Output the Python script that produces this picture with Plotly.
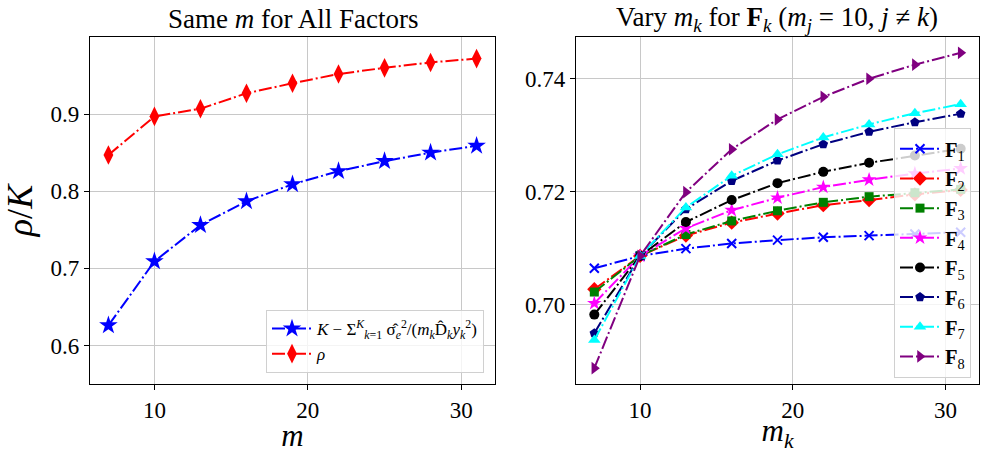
import plotly.graph_objects as go

# ---- data -------------------------------------------------------------
m_values = [7, 10, 13, 16, 19, 22, 25, 28, 31]

bound_vals = [0.626, 0.709, 0.756, 0.787, 0.809, 0.826, 0.839, 0.850, 0.859]
rho_vals = [0.847, 0.897, 0.907, 0.927, 0.940, 0.952, 0.960, 0.967, 0.972]

F1 = [0.7064, 0.7086, 0.7099, 0.7108, 0.7114, 0.7119, 0.7122, 0.7125, 0.7128]
F2 = [0.7027, 0.7086, 0.7122, 0.7145, 0.7161, 0.7176, 0.7185, 0.7195, 0.7203]
F3 = [0.7022, 0.7086, 0.7124, 0.7148, 0.7166, 0.7181, 0.7191, 0.7198, 0.7204]
F4 = [0.7002, 0.7086, 0.7135, 0.7167, 0.7189, 0.7208, 0.7221, 0.7232, 0.7241]
F5 = [0.6982, 0.7086, 0.7146, 0.7185, 0.7215, 0.7235, 0.7251, 0.7264, 0.7276]
F6 = [0.6949, 0.7086, 0.7169, 0.7219, 0.7255, 0.7284, 0.7306, 0.7323, 0.7338]
F7 = [0.6937, 0.7086, 0.7172, 0.7228, 0.7266, 0.7296, 0.7319, 0.7339, 0.7355]
F8 = [0.6887, 0.7086, 0.7199, 0.7275, 0.7328, 0.7368, 0.7400, 0.7425, 0.7446]

factor_series = [F1, F2, F3, F4, F5, F6, F7, F8]
factor_names = [f"<b>F</b><sub>{i}</sub>" for i in range(1, 9)]
factor_colors = ["blue", "red", "green", "magenta", "black", "navy", "cyan", "purple"]
factor_symbols = ["x-thin-open", "diamond", "square", "star", "circle",
                  "pentagon", "triangle-up", "triangle-right"]
factor_sizes = [9, 11, 9, 11, 10, 10, 11, 11]

left_xticks = [10, 20, 30]
left_yticks = [0.6, 0.7, 0.8, 0.9]
right_yticks = [0.70, 0.72, 0.74]

# ---- styling ----------------------------------------------------------
FONT = "Liberation Serif"
DASH = "13px,3px,2px,3px"
W, H = 982, 453


def px_x(p):
    return p / W


def px_y(p):
    return 1 - p / H


fig = go.Figure()

# left panel
fig.add_trace(go.Scatter(
    x=m_values, y=bound_vals, mode="lines+markers",
    name=("<i>K</i> − Σ<sup><i>K</i></sup><sub><i>k</i>=1</sub> "
          "σ̂<sub><i>e</i></sub><sup>2</sup>/"
          "(<i>m<sub>k</sub></i>D̂<sub><i>k</i></sub><i>y</i><sub><i>k</i></sub><sup>2</sup>)"),
    line=dict(color="blue", width=2, dash=DASH),
    marker=dict(symbol="star", size=14, color="blue"),
    xaxis="x", yaxis="y", legend="legend"))
fig.add_trace(go.Scatter(
    x=m_values, y=rho_vals, mode="lines+markers", name="<i>ρ</i>",
    line=dict(color="red", width=2, dash=DASH),
    marker=dict(symbol="diamond-tall", size=14, color="red"),
    xaxis="x", yaxis="y", legend="legend"))

# right panel
for vals, name, col, sym, sz in zip(factor_series, factor_names, factor_colors,
                                    factor_symbols, factor_sizes):
    marker = dict(symbol=sym, size=sz, color=col)
    if sym == "x-thin-open":
        marker["line"] = dict(color=col, width=2)
    fig.add_trace(go.Scatter(
        x=m_values, y=vals, mode="lines+markers", name=name,
        line=dict(color=col, width=2, dash=DASH), marker=marker,
        xaxis="x2", yaxis="y2", legend="legend2"))

axis_common = dict(
    showline=True, linecolor="black", linewidth=1.3, mirror=True,
    ticks="outside", ticklen=5, tickcolor="black", tickwidth=1.2,
    showgrid=True, gridcolor="#c8c8c8", gridwidth=1, zeroline=False,
    tickfont=dict(family=FONT, size=23, color="black"),
)

ydom = [px_y(384), px_y(37)]

fig.update_layout(
    width=W, height=H,
    margin=dict(l=0, r=0, t=0, b=0),
    paper_bgcolor="white", plot_bgcolor="white",
    font=dict(family=FONT, color="black"),
    xaxis=dict(domain=[px_x(90), px_x(495)], range=[5.8, 32.2],
               tickvals=left_xticks, anchor="y",
               title=dict(text="<i>m</i>", font=dict(family=FONT, size=31),
                          standoff=4),
               **axis_common),
    yaxis=dict(domain=ydom, range=[0.55, 1.0], tickvals=left_yticks,
               tickformat=".1f", anchor="x",
               title=dict(text="<i>ρ</i>/<i>K</i>", font=dict(family=FONT, size=36),
                          standoff=6),
               **axis_common),
    xaxis2=dict(domain=[px_x(576), px_x(979)], range=[5.8, 32.2],
                tickvals=left_xticks, anchor="y2",
                title=dict(text="<i>m<sub>k</sub></i>", font=dict(family=FONT, size=31),
                           standoff=4),
                **axis_common),
    yaxis2=dict(domain=ydom, range=[0.6859, 0.7474], tickvals=right_yticks,
                tickformat=".2f", anchor="x2", **axis_common),
    legend=dict(
        x=px_x(484), y=px_y(373), xanchor="right", yanchor="bottom",
        bgcolor="rgba(255,255,255,0.8)", bordercolor="#d0d0d0", borderwidth=1,
        font=dict(family=FONT, size=17, color="black"), itemwidth=40,
        tracegroupgap=0,
    ),
    legend2=dict(
        x=px_x(971), y=px_y(128), xanchor="right", yanchor="top",
        bgcolor="rgba(255,255,255,0.8)", bordercolor="#d0d0d0", borderwidth=1,
        font=dict(family=FONT, size=20.5, color="black"), itemwidth=40,
        tracegroupgap=0,
    ),
    showlegend=True,
    annotations=[
        dict(text="Same <i>m</i> for All Factors", x=(px_x(90) + px_x(495)) / 2,
             y=px_y(19), xref="paper", yref="paper", xanchor="center",
             yanchor="middle", showarrow=False,
             font=dict(family=FONT, size=27, color="black")),
        dict(text=("Vary <i>m<sub>k</sub></i> for <b>F</b><sub><i>k</i></sub> "
                   "(<i>m<sub>j</sub></i> = 10, <i>j</i> ≠ <i>k</i>)"),
             x=(px_x(576) + px_x(979)) / 2, y=px_y(19), xref="paper", yref="paper",
             xanchor="center", yanchor="middle", showarrow=False,
             font=dict(family=FONT, size=27, color="black")),
    ],
)

fig.write_html("out.html")
